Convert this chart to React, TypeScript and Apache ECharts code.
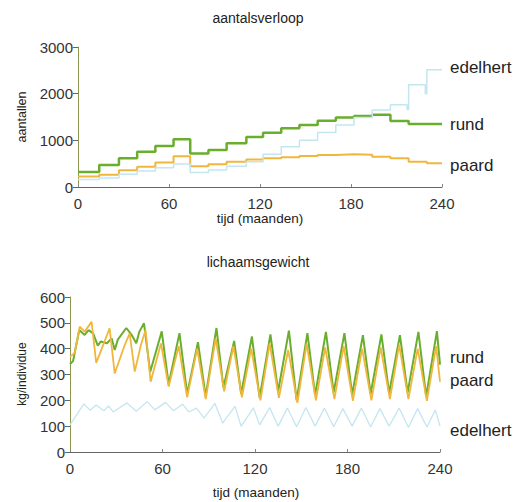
import React, { useEffect, useRef } from "react";
import * as echarts from "echarts";

const FONT = "'Liberation Sans', Arial, Helvetica, sans-serif";

const monthTicks = [0, 60, 120, 180, 240];
const countRange = [0, 3000];
const weightRange = [0, 600];

const titles = ["aantalsverloop", "lichaamsgewicht"];
const yNames = ["aantallen", "kg/individue"];
const xName = "tijd (maanden)";

// top chart: population counts (month, count) — step lines
const rundAantal: [number, number][] = [
  [0, 320], [14, 470], [27, 614], [39, 757], [51, 880], [63, 1025], [74, 720], [86, 793],
  [98, 935], [111, 1070], [122, 1165], [134, 1260], [146, 1330], [158, 1420], [170, 1490],
  [182, 1520], [194, 1550], [206, 1415], [218, 1350], [240, 1350],
];
const paardAantal: [number, number][] = [
  [0, 225], [14, 265], [27, 360], [39, 435], [51, 525], [63, 660], [74, 445], [86, 486],
  [98, 543], [111, 590], [122, 614], [134, 636], [146, 664], [158, 686], [170, 700],
  [182, 690], [194, 650], [206, 614], [218, 543], [230, 507], [240, 507],
];
const edelhertAantal: [number, number][] = [
  [0, 160], [14, 195], [27, 275], [39, 345], [51, 415], [63, 495], [74, 310], [86, 364],
  [98, 445], [111, 540], [122, 700], [134, 860], [146, 1000], [158, 1170], [170, 1330],
  [182, 1490], [194, 1650], [206, 1760], [217, 1660], [218, 2190], [229, 2000], [230, 2510],
  [240, 2510],
];

// bottom chart: body weight (month, kg/individual)
const rundGewicht: [number, number][] = [
  [0, 340], [2, 352], [6, 472], [9.5, 453], [12, 472], [15, 459], [18, 412], [20, 428],
  [24, 421], [27, 440], [29, 395], [31, 435], [36.5, 480], [40, 453], [43, 421], [45, 466],
  [48, 498], [52, 310], [59.5, 467], [64, 262], [71, 460], [76, 225], [83, 425], [88, 215],
  [95, 480], [99.5, 250], [106.5, 430], [111, 225], [118, 447], [123, 210], [130, 455],
  [135, 235], [142, 470], [147, 200], [154, 460], [159, 220], [166, 465], [171, 230],
  [178, 460], [183, 222], [190, 452], [195, 225], [202, 455], [207, 228], [214, 452],
  [219, 230], [226, 465], [231, 215], [238, 468], [240, 338],
];
const paardGewicht: [number, number][] = [
  [0, 370], [3, 382], [6.3, 485], [9.5, 466], [14, 504], [17, 345], [21.5, 414], [25.7, 479],
  [29, 304], [35.5, 414], [38.7, 459], [42, 311], [46, 414], [49, 472], [52.3, 272], [59, 420],
  [64, 253], [70.5, 410], [76, 212], [82.5, 400], [88, 205], [94.5, 440], [100, 235],
  [106, 410], [111.5, 212], [117.5, 400], [123.5, 200], [129.5, 420], [135.5, 210],
  [141.5, 395], [147.5, 190], [153.5, 420], [159.5, 200], [165.5, 405], [171.5, 205],
  [177.5, 410], [183.5, 198], [189.5, 400], [195.5, 200], [201.5, 405], [207.5, 205],
  [213.5, 415], [219.5, 205], [225.5, 400], [231.5, 198], [237.5, 410], [240, 272],
];
const edelhertGewicht: [number, number][] = [
  [0, 105], [9, 186], [13, 162], [17, 182], [22, 160], [25, 178], [28, 155], [37, 190],
  [43, 158], [50, 195], [55, 163], [62, 192], [67, 160], [73, 185], [77, 155], [82, 170],
  [87, 131], [94, 188], [99, 112], [107, 177], [111, 99], [119, 171], [123, 105],
  [129.5, 172], [135, 100], [141, 170], [147, 98], [153, 172], [159, 100], [165, 170],
  [171, 98], [177, 168], [183, 100], [189, 170], [195, 97], [201, 168], [207, 100],
  [213.5, 170], [219.5, 95], [225.5, 168], [231.5, 97], [237, 162], [240, 100],
];

const GREEN = "#6aae2e";
const ORANGE = "#f1b63c";
const BLUE = "#c4e6f0";

export default function App() {
  const ref = useRef<HTMLDivElement>(null);
  useEffect(() => {
    const chart = echarts.init(ref.current!, null, { renderer: "svg" });
    const plain = (v: number) => String(v);
    const xAxisBase = (gridIndex: number) => ({
      gridIndex,
      type: "value",
      min: monthTicks[0],
      max: monthTicks[monthTicks.length - 1],
      interval: monthTicks[1] - monthTicks[0],
      axisLine: { show: true, lineStyle: { color: "#666", width: 1 } },
      axisTick: { show: true, inside: true, length: 3, lineStyle: { color: "#888" } },
      axisLabel: { fontSize: 15, color: "#333", fontFamily: FONT, margin: 9, formatter: plain },
      splitLine: { show: false },
    });
    const yAxisBase = (gridIndex: number, range: number[], interval: number) => ({
      gridIndex,
      type: "value",
      min: range[0],
      max: range[1],
      interval,
      axisLine: { show: true, lineStyle: { color: "#8c9650", width: 1 } },
      axisTick: { show: true, length: 5, lineStyle: { color: "#666" } },
      axisLabel: { fontSize: 15, color: "#333", fontFamily: FONT, margin: 5, formatter: plain },
      splitLine: { show: false },
    });
    const line = (
      data: [number, number][],
      color: string,
      width: number,
      idx: number,
      step: boolean,
      z: number
    ) => ({
      type: "line",
      xAxisIndex: idx,
      yAxisIndex: idx,
      data,
      step: step ? "end" : undefined,
      showSymbol: false,
      symbol: "none",
      z,
      lineStyle: { color, width },
      itemStyle: { color },
    });
    const txt = (text: string, x: number, y: number, size: number, align = "left", rotation = 0) => ({
      type: "text",
      x,
      y,
      rotation,
      style: {
        text,
        fontSize: size,
        fontFamily: FONT,
        fill: "#222",
        align,
        verticalAlign: "middle",
      },
    });
    chart.setOption({
      animation: false,
      grid: [
        { left: 78, top: 47, width: 364, height: 140 },
        { left: 70, top: 297, width: 370, height: 155 },
      ],
      xAxis: [xAxisBase(0), xAxisBase(1)],
      yAxis: [yAxisBase(0, countRange, 1000), yAxisBase(1, weightRange, 100)],
      series: [
        line(rundAantal, GREEN, 2.5, 0, true, 2),
        line(paardAantal, ORANGE, 2, 0, true, 3),
        line(edelhertAantal, BLUE, 1.5, 0, true, 4),
        line(rundGewicht, GREEN, 2, 1, false, 2),
        line(paardGewicht, ORANGE, 1.8, 1, false, 3),
        line(edelhertGewicht, BLUE, 1.3, 1, false, 4),
      ],
      graphic: [
        txt(titles[0], 258, 18, 14, "center"),
        txt(titles[1], 258, 262, 14, "center"),
        txt(yNames[0], 22, 117, 12.5, "center", Math.PI / 2),
        txt(yNames[1], 22, 374, 12, "center", Math.PI / 2),
        txt(xName, 260, 218, 13.5, "center"),
        txt(xName, 256, 492, 13.5, "center"),
        txt("edelhert", 450, 67, 17),
        txt("rund", 450, 124, 17),
        txt("paard", 450, 165, 17),
        txt("rund", 450, 357, 17),
        txt("paard", 450, 380, 17),
        txt("edelhert", 450, 430, 17),
      ],
    });
    return () => chart.dispose();
  }, []);
  return (
    <div
      ref={ref}
      style={{ position: "fixed", left: 0, top: 0, width: 524, height: 502, background: "#fff" }}
    />
  );
}
